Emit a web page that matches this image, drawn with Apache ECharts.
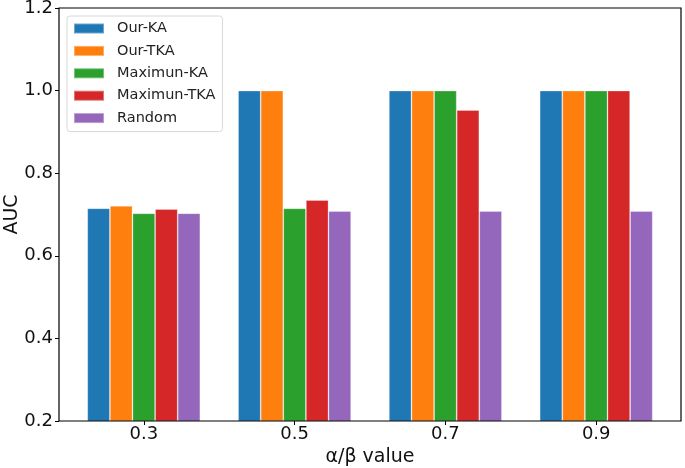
<!DOCTYPE html>
<html>
<head>
<meta charset="utf-8">
<script src="https://cdn.jsdelivr.net/npm/echarts@6/dist/echarts.min.js"></script>
<style>
    html, body {margin: 0; padding: 0; background: #fff;}
    #chart {width: 685px; height: 468px;}
</style>
</head>
<body>
<div id="chart"></div>
<script>
const categories = ['0.3', '0.5', '0.7', '0.9'];
const seriesNames = ['Our-KA', 'Our-TKA', 'Maximun-KA', 'Maximun-TKA', 'Random'];
const ourKA = [0.715, 1.0, 1.0, 1.0];
const ourTKA = [0.721, 1.0, 1.0, 1.0];
const maxKA = [0.703, 0.715, 1.0, 1.0];
const maxTKA = [0.713, 0.735, 0.953, 1.0];
const random = [0.703, 0.708, 0.708, 0.708];
const yTicks = [0.2, 0.4, 0.6, 0.8, 1.0, 1.2];

const colors = ['#1f77b4', '#ff7f0e', '#2ca02c', '#d62728', '#9467bd'];
const font = 'DejaVu Sans';
const textColor = '#111';

const chart = echarts.init(document.getElementById('chart'));
chart.setOption({
    animation: false,
    color: colors,
    textStyle: {fontFamily: font},
    grid: [
        {left: 68.4, right: 13.4, top: 8, bottom: 47, outerBoundsMode: 'none'},
        // frame box like matplotlib spines
        {left: 59, right: 4, top: 8, bottom: 47, show: true, borderColor: '#000', borderWidth: 1.2, z: 5, outerBoundsMode: 'none'},
    ],
    legend: {
        orient: 'vertical',
        left: 67,
        top: 16,
        itemWidth: 30,
        itemHeight: 10,
        itemGap: 5.4,
        padding: [4, 7, 5, 6],
        borderColor: '#d8d8d8',
        borderWidth: 1,
        borderRadius: 3,
        backgroundColor: 'rgba(255,255,255,0.8)',
        icon: 'rect',
        textStyle: {fontFamily: font, fontSize: 14.5, color: '#222', lineHeight: 17, padding: [0, 0, 0, 8]},
        data: seriesNames,
    },
    xAxis: [
        {
            type: 'category',
            data: categories,
            gridIndex: 0,
            axisLine: {show: false},
            axisTick: {show: true, alignWithLabel: true, length: 4, lineStyle: {color: '#000'}},
            axisLabel: {fontFamily: font, fontSize: 18, color: textColor, margin: 4.5},
            name: 'α/β value',
            nameLocation: 'middle',
            nameGap: 27,
            nameMoveOverlap: false,
            nameTextStyle: {fontFamily: font, fontSize: 19, color: textColor},
        },
        {type: 'value', gridIndex: 1, show: false},
    ],
    yAxis: [
        {
            type: 'value',
            gridIndex: 0,
            min: 0.2,
            max: 1.2,
            interval: 0.2,
            offset: 9.4,
            axisLine: {show: false},
            axisTick: {show: true, length: 4, lineStyle: {color: '#000'}},
            splitLine: {show: false},
            axisLabel: {
                fontFamily: font, fontSize: 18, color: textColor, margin: 6,
                formatter: v => {
                    const t = yTicks.find(x => Math.abs(x - v) < 1e-6);
                    return t !== undefined ? t.toFixed(1) : '';
                },
            },
            name: 'AUC',
            nameLocation: 'middle',
            nameGap: 37,
            nameMoveOverlap: false,
            nameTextStyle: {fontFamily: font, fontSize: 19, color: textColor},
        },
        {type: 'value', gridIndex: 1, show: false},
    ],
    series: [ourKA, ourTKA, maxKA, maxTKA, random].map((vals, i) => ({
        name: seriesNames[i],
        type: 'bar',
        xAxisIndex: 0,
        yAxisIndex: 0,
        barWidth: 22.6,
        barGap: '0%',
        itemStyle: {borderColor: 'rgba(255,255,255,0.35)', borderWidth: 0.8},
        data: vals,
    })),
});
</script>
</body>
</html>
